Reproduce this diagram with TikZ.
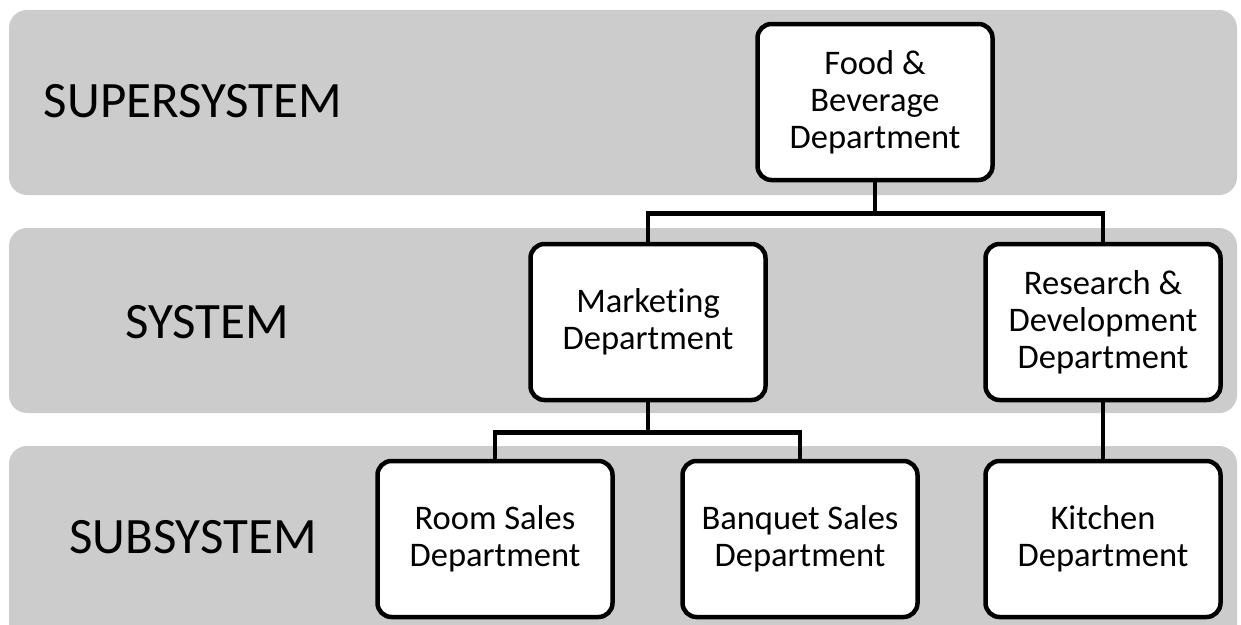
\documentclass[tikz,border=0pt]{standalone}
\usepackage{fontspec}
\setmainfont[Ligatures=NoCommon]{Carlito}
\usetikzlibrary{positioning}
\tikzset{dept/.style={draw=black,line width=4.5pt,fill=white,rounded corners=14pt,minimum width=235pt,minimum height=156pt,align=center,font=\fontsize{34.5}{37}\selectfont}}

\begin{document}
\begin{tikzpicture}[x=1pt,y=-1pt]
\tikzset{band/.style={fill=black!20,rounded corners=18pt},
  level/.style={font=\fontsize{51}{56}\selectfont},
  link/.style={line width=4.5pt}}
\clip (0,0) rectangle (1241,624);
\fill[white] (0,0) rectangle (1241,624);
\foreach \t in {10,228} \fill[band] (9,\t) rectangle (1237,\t+185);
\fill[band] (9,446) rectangle (1237,660);
\node[level] (super) at (193,101) {SUPERSYSTEM};
\node[level] (sys) at (207,322) {SYSTEM};
\node[level] (sub) at (193,537) {SUBSYSTEM};
\node[dept] (fnb) at (875,102) {Food \&\\Beverage\\Department};
\node[dept] (mkt) at (648,322) {Marketing\\Department};
\node[dept] (rnd) at (1103,322) {Research \&\\Development\\Department};
\node[dept] (room) at (495,539) {Room Sales\\Department};
\node[dept] (banquet) at (800,539) {Banquet Sales\\Department};
\node[dept] (kitchen) at (1103,539) {Kitchen\\Department};
\draw[link] (fnb.south) -- ++(0,31) -| (mkt.north);
\draw[link] (fnb.south) -- ++(0,31) -| (rnd.north);
\draw[link] (mkt.south) -- ++(0,30) -| (room.north);
\draw[link] (mkt.south) -- ++(0,30) -| (banquet.north);
\draw[link] (rnd.south) -- (kitchen.north);
\end{tikzpicture}
\end{document}
